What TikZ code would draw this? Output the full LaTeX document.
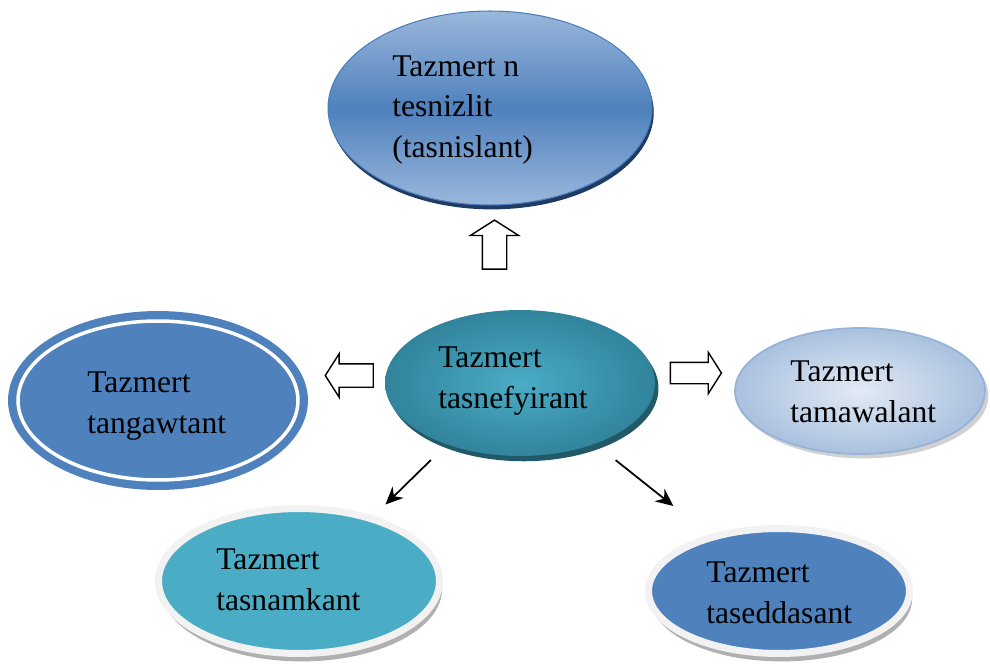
\documentclass[tikz,border=0pt]{standalone}
\usepackage{fontspec}
\setmainfont{Liberation Serif}
\usetikzlibrary{shapes.geometric,shapes.arrows,shadows,arrows.meta}

\definecolor{toplight}{HTML}{9AB7DB}
\definecolor{topdark}{HTML}{4F81BD}
\definecolor{topedge}{HTML}{4A7EBB}
\definecolor{topshade}{HTML}{1F3B63}
\definecolor{midlight}{HTML}{4BACC6}
\definecolor{middark}{HTML}{31849B}
\definecolor{midshade}{HTML}{215968}
\definecolor{blueone}{HTML}{4F81BD}
\definecolor{rightlight}{HTML}{E3EAF4}
\definecolor{rightdark}{HTML}{A9C1DF}
\definecolor{rightedge}{HTML}{95B3D7}
\definecolor{tealone}{HTML}{4BACC6}
\definecolor{rim}{HTML}{F2F2F2}
\definecolor{rimshade}{HTML}{B0B0B0}

\begin{document}
\begin{tikzpicture}[x=0.02cm,y=-0.02cm,
  bubble/.style={ellipse,inner sep=0pt},
  rimbubble/.style={ellipse,inner sep=0pt,draw=rim,line width=0.14cm,
    drop shadow={shadow xshift=1.5pt,shadow yshift=-4.5pt,fill=rimshade,opacity=1}},
  blockarrow/.style={single arrow,draw=black,fill=white,line width=0.8pt,inner sep=0pt,single arrow tip angle=115},
  thinarrow/.style={-{Stealth[length=10pt,width=9pt]},line width=1pt},
  lbl/.style={anchor=base west,align=left,inner sep=0pt,font=\fontsize{18}{23}\selectfont}]

\useasboundingbox (0,0) rectangle (990,669);

% ellipses
\node[bubble,minimum width=6.48cm,minimum height=3.88cm,draw=topedge,line width=0.6pt,
  top color=toplight,bottom color=toplight,middle color=topdark,
  drop shadow={shadow xshift=1pt,shadow yshift=-2.5pt,fill=topshade,opacity=1}] (tesnizlit) at (490,108) {};
\node[bubble,minimum width=5.4cm,minimum height=2.92cm,inner color=midlight,outer color=middark,
  drop shadow={shadow xshift=2pt,shadow yshift=-3pt,fill=midshade,opacity=1}] (tasnefyirant) at (520,383) {};
\node[bubble,minimum width=6cm,minimum height=3.58cm,fill=blueone] (tangawtant) at (158,400.5) {};
\draw[white,line width=2pt] (tangawtant.center) ellipse [x radius=2.8cm,y radius=1.59cm];
\node[bubble,minimum width=5cm,minimum height=2.52cm,draw=rightedge,line width=1pt,
  inner color=rightlight,outer color=rightdark,
  drop shadow={shadow xshift=2pt,shadow yshift=-2.5pt,fill=gray!45,opacity=.8}] (tamawalant) at (860,391) {};
\node[rimbubble,minimum width=5.62cm,minimum height=2.9cm,fill=tealone] (tasnamkant) at (299,581) {};
\node[rimbubble,minimum width=5.22cm,minimum height=2.5cm,fill=blueone] (taseddasant) at (779,591) {};

% texts
\node[lbl] (tesnizlitText) at (392,157) {Tazmert n\\tesnizlit\\(tasnislant)};
\node[lbl] (tasnefyirantText) at (438,408) {Tazmert\\tasnefyirant};
\node[lbl] (tangawtantText) at (87,433) {Tazmert\\tangawtant};
\node[lbl] (tamawalantText) at (790,422) {Tazmert\\tamawalant};
\node[lbl] (tasnamkantText) at (216,610) {Tazmert\\tasnamkant};
\node[lbl] (taseddasantText) at (706,623) {Tazmert\\taseddasant};

% arrows
\node[blockarrow,shape border rotate=90,inner xsep=0.23cm,minimum height=0.98cm,minimum width=0.94cm,single arrow head extend=0.24cm] (upArrow) at (494.5,248.5) {};
\node[blockarrow,shape border rotate=180,inner ysep=0.22cm,minimum height=0.96cm,minimum width=0.84cm,single arrow head extend=0.2cm] (leftArrow) at (353,375.5) {};
\node[blockarrow,inner ysep=0.2cm,minimum height=1.02cm,minimum width=0.8cm,single arrow head extend=0.2cm] (rightArrow) at (692.5,373) {};

\draw[thinarrow,shorten <=0.44cm,shorten >=0.33cm] (tasnefyirant.220.5) -- (tasnamkant.41.5);
\draw[thinarrow,shorten <=0.52cm,shorten >=0.92cm] (tasnefyirant.321.9) -- (taseddasant.141.3);

\end{tikzpicture}
\end{document}
